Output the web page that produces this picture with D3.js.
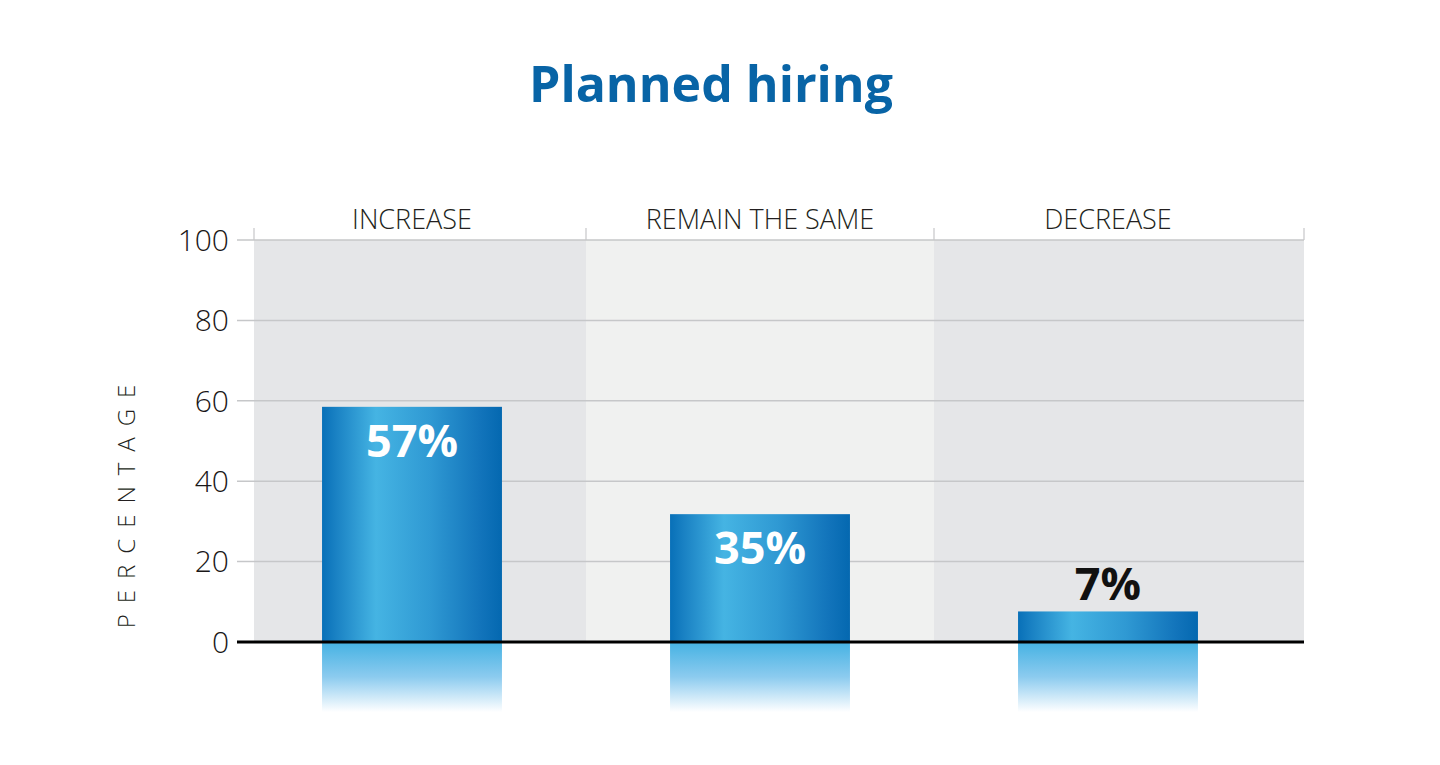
<!DOCTYPE html>
<html><head><meta charset="utf-8">
<script src="https://cdn.jsdelivr.net/npm/d3@7"></script>
<style>
html,body{margin:0;padding:0;background:#fff;}
svg{display:block;}
</style></head>
<body>
<svg id="chart" width="1440" height="765"></svg>
<script>
// ---- data ----
const categories = ["INCREASE", "REMAIN THE SAME", "DECREASE"];
const barValues = [58.5, 31.8, 7.6];          // bar heights as drawn
const valueLabels = ["57%", "35%", "7%"];      // printed labels
const yTicks = [0, 20, 40, 60, 80, 100];
const titleText = "Planned hiring";
const yTitle = "PERCENTAGE";

// ---- layout ----
const svg = d3.select("#chart");
const panelLeft = 254, panelRight = 1304, gridLeft = 237;
const y = d3.scaleLinear().domain([0, 100]).range([642, 240]);
const x = d3.scaleBand().domain(categories).range([238, 1282]).padding(0);
const barW = x.bandwidth() * 0.517;

const defs = svg.append("defs");
const g1 = defs.append("linearGradient").attr("id", "barGrad").attr("x1", "0").attr("x2", "1").attr("y1", "0").attr("y2", "0");
[[0, "#0870b8"], [0.08, "#1a82c4"], [0.3, "#45b4e3"], [0.6, "#2f99d3"], [0.88, "#1274bb"], [1, "#0468b0"]]
  .forEach(([o, c]) => g1.append("stop").attr("offset", o).attr("stop-color", c));
const g2 = defs.append("linearGradient").attr("id", "reflGrad").attr("x1", "0").attr("x2", "0").attr("y1", "0").attr("y2", "1");
[[0, "#45b2e3"], [0.5, "#8ccbef"], [1, "#ffffff"]]
  .forEach(([o, c]) => g2.append("stop").attr("offset", o).attr("stop-color", c));

// title
svg.append("text").attr("x", 711).attr("y", 102).attr("text-anchor", "middle")
  .attr("font-family", "'Open Sans', sans-serif").attr("font-weight", 700)
  .attr("font-size", 50).attr("fill", "#0864a6").text(titleText);

// panel background
svg.append("rect").attr("x", panelLeft).attr("y", y(100)).attr("width", panelRight - panelLeft)
  .attr("height", y(0) - y(100)).attr("fill", "#e5e6e8");
svg.append("rect").attr("x", x(categories[1])).attr("y", y(100)).attr("width", x.bandwidth())
  .attr("height", y(0) - y(100)).attr("fill", "#f0f1f0");

// gridlines
svg.append("g").selectAll("line").data(yTicks.filter(d => d > 0)).join("line")
  .attr("x1", gridLeft).attr("x2", panelRight).attr("y1", d => y(d)).attr("y2", d => y(d))
  .attr("stroke", "#c6c7c9").attr("stroke-width", 1.5);

// top category tick marks
const sepX = [panelLeft, x(categories[1]), x(categories[2]), panelRight];
svg.append("g").selectAll("line").data(sepX).join("line")
  .attr("x1", d => d).attr("x2", d => d).attr("y1", y(100) - 12).attr("y2", y(100))
  .attr("stroke", "#c6c7c9").attr("stroke-width", 1.2);

// category labels
svg.append("g").selectAll("text").data(categories).join("text")
  .attr("x", d => x(d) + x.bandwidth() / 2).attr("y", 229).attr("text-anchor", "middle")
  .attr("font-family", "'Open Sans', sans-serif").attr("font-weight", 300)
  .attr("font-size", 27).attr("fill", "#231f20").text(d => d);

// y tick labels
svg.append("g").selectAll("text").data(yTicks).join("text")
  .attr("x", 229).attr("y", d => y(d)).attr("dy", "0.36em").attr("text-anchor", "end")
  .attr("font-family", "'Open Sans', sans-serif").attr("font-weight", 300)
  .attr("font-size", 30).attr("fill", "#1a1718").text(d => d);

// y title
svg.append("text").attr("transform", `translate(135,${(y(0) + y(100)) / 2 + 60}) rotate(-90)`)
  .attr("text-anchor", "middle").attr("font-family", "'Open Sans', sans-serif").attr("font-weight", 300)
  .attr("font-size", 24).attr("letter-spacing", 11).attr("fill", "#231f20").text(yTitle);

// bars
const bars = svg.append("g").selectAll("g").data(categories).join("g");
bars.append("rect")
  .attr("x", d => x(d) + (x.bandwidth() - barW) / 2)
  .attr("y", (d, i) => y(barValues[i]))
  .attr("width", barW)
  .attr("height", (d, i) => y(0) - y(barValues[i]))
  .attr("fill", "url(#barGrad)");
// reflections
bars.append("rect")
  .attr("x", d => x(d) + (x.bandwidth() - barW) / 2)
  .attr("y", y(0))
  .attr("width", barW)
  .attr("height", 70)
  .attr("fill", "url(#reflGrad)");

// baseline
svg.append("line").attr("x1", gridLeft).attr("x2", panelRight).attr("y1", y(0)).attr("y2", y(0))
  .attr("stroke", "#000").attr("stroke-width", 3);

// value labels
bars.append("text")
  .attr("x", d => x(d) + x.bandwidth() / 2)
  .attr("y", (d, i) => barValues[i] > 15 ? y(barValues[i]) + 50 : y(barValues[i]) - 11)
  .attr("text-anchor", "middle")
  .attr("font-family", "'Open Sans', sans-serif").attr("font-weight", 700)
  .attr("font-size", 45)
  .attr("fill", (d, i) => barValues[i] > 15 ? "#ffffff" : "#111111")
  .text((d, i) => valueLabels[i]);
</script>
</body></html>
